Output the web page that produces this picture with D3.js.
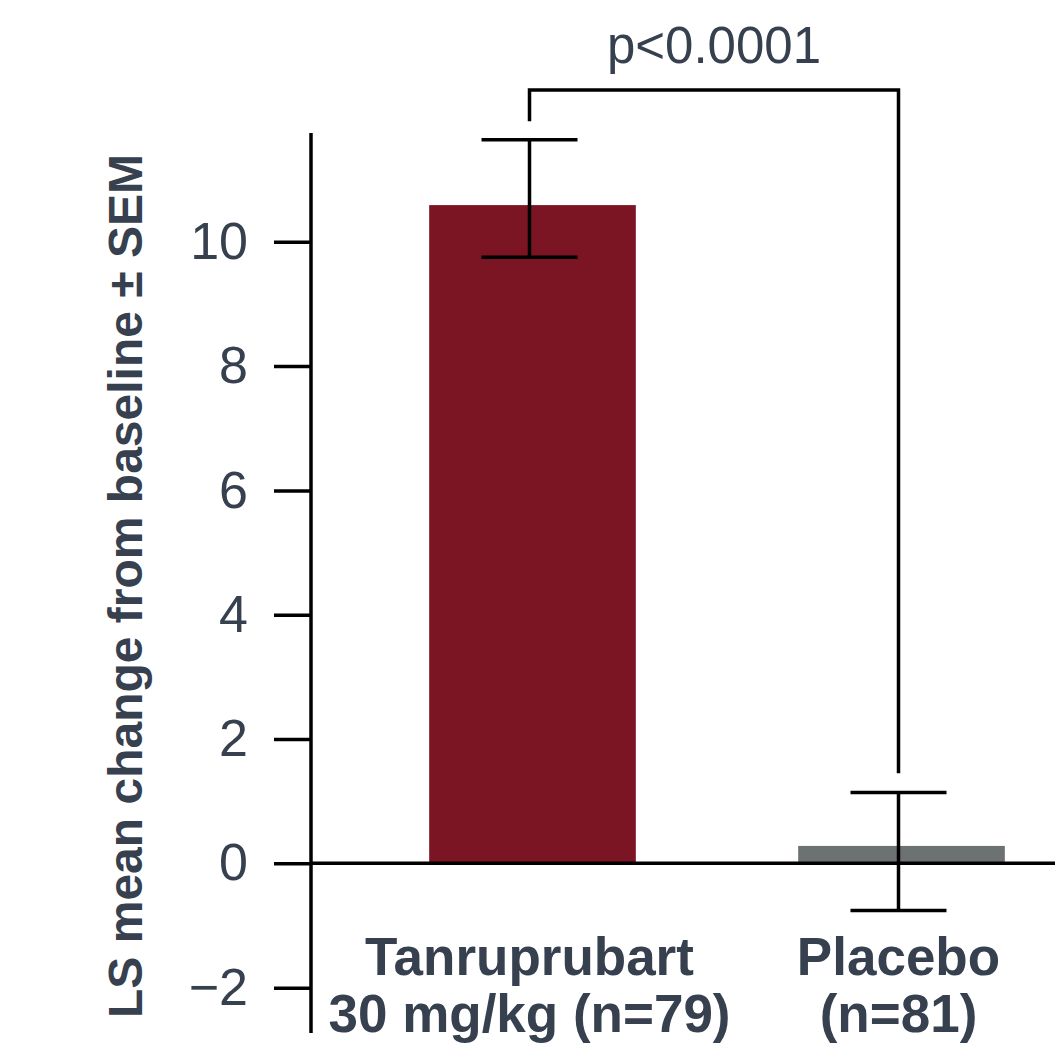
<!DOCTYPE html>
<html>
<head>
<meta charset="utf-8">
<script src="https://cdn.jsdelivr.net/npm/d3@7"></script>
<style>
  body { margin: 0; background: #fff; }
  svg { display: block; }
</style>
</head>
<body>
<div id="chart"></div>
<script>
// groups and values (LS mean change from baseline, with SEM bar ends)
var groups = ["Tanruprubart|30 mg/kg (n=79)", "Placebo|(n=81)"];
var means = [10.59, 0.28];
var errLow = [9.75, -0.76];
var errHigh = [11.64, 1.14];
var barColors = ["#7b1423", "#6b7271"];
var yTicks = [-2, 0, 2, 4, 6, 8, 10];
// significance bracket: left leg bottom, top, right leg bottom
var bracket = [11.94, 12.44, 1.45];
var pLabel = "p<0.0001";
var yTitle = "LS mean change from baseline \u00B1 SEM";

var W = 1055, H = 1054;
var textCol = "#36404f";

var svg = d3.select("#chart").append("svg")
    .attr("width", W)
    .attr("height", H);

var x = d3.scaleBand()
    .domain(groups)
    .range([348, 1086])
    .paddingInner(0.44)
    .paddingOuter(0.22);

var y = d3.scaleLinear()
    .domain([-2.73, 11.75])
    .range([1033, 133]);

var axisX = 311;

// y axis
var yAxis = d3.axisLeft(y)
    .tickValues(yTicks)
    .tickSize(37)
    .tickPadding(26);

var gy = svg.append("g")
    .attr("transform", "translate(" + axisX + ",0)")
    .call(yAxis);
gy.select(".domain").remove();
gy.selectAll(".tick line").attr("stroke", "#000").attr("stroke-width", 3.5);
gy.selectAll(".tick text")
    .attr("fill", textCol)
    .style("font-family", "Liberation Sans, Arial, sans-serif")
    .style("font-size", "52px");

gy.append("line")
    .attr("x1", 0).attr("x2", 0)
    .attr("y1", y.range()[1]).attr("y2", y.range()[0])
    .attr("stroke", "#000")
    .attr("stroke-width", 3.5);

// bars
svg.selectAll("rect.bar")
    .data(groups)
    .enter().append("rect")
    .attr("class", "bar")
    .attr("x", function(d) { return x(d); })
    .attr("width", x.bandwidth())
    .attr("y", function(d, i) { return y(Math.max(0, means[i])); })
    .attr("height", function(d, i) { return Math.abs(y(means[i]) - y(0)); })
    .attr("fill", function(d, i) { return barColors[i]; });

// zero line across
svg.append("line")
    .attr("x1", axisX).attr("x2", W)
    .attr("y1", y(0)).attr("y2", y(0))
    .attr("stroke", "#000")
    .attr("stroke-width", 3.5);

// error bars
var capHalf = 48;
var eb = svg.selectAll("g.err")
    .data(groups)
    .enter().append("g")
    .attr("class", "err")
    .attr("stroke", "#000")
    .attr("stroke-width", 3.5);

eb.append("line")
    .attr("x1", function(d) { return x(d) + x.bandwidth() / 2 - 3; })
    .attr("x2", function(d) { return x(d) + x.bandwidth() / 2 - 3; })
    .attr("y1", function(d, i) { return y(errLow[i]); })
    .attr("y2", function(d, i) { return y(errHigh[i]); });
eb.append("line")
    .attr("x1", function(d) { return x(d) + x.bandwidth() / 2 - 3 - capHalf; })
    .attr("x2", function(d) { return x(d) + x.bandwidth() / 2 - 3 + capHalf; })
    .attr("y1", function(d, i) { return y(errHigh[i]); })
    .attr("y2", function(d, i) { return y(errHigh[i]); });
eb.append("line")
    .attr("x1", function(d) { return x(d) + x.bandwidth() / 2 - 3 - capHalf; })
    .attr("x2", function(d) { return x(d) + x.bandwidth() / 2 - 3 + capHalf; })
    .attr("y1", function(d, i) { return y(errLow[i]); })
    .attr("y2", function(d, i) { return y(errLow[i]); });

// significance bracket
var bx1 = x(groups[0]) + x.bandwidth() / 2 - 3;
var bx2 = x(groups[1]) + x.bandwidth() / 2 - 3;
svg.append("path")
    .attr("d", "M" + bx1 + "," + y(bracket[0]) +
               "V" + y(bracket[1]) +
               "H" + bx2 +
               "V" + y(bracket[2]))
    .attr("fill", "none")
    .attr("stroke", "#000")
    .attr("stroke-width", 3.5);

svg.append("text")
    .attr("x", (bx1 + bx2) / 2)
    .attr("y", 63)
    .attr("text-anchor", "middle")
    .attr("fill", textCol)
    .style("font-family", "Liberation Sans, Arial, sans-serif")
    .style("font-size", "51px")
    .text(pLabel);

// category labels
var lab = svg.selectAll("text.cat")
    .data(groups)
    .enter().append("text")
    .attr("class", "cat")
    .attr("text-anchor", "middle")
    .attr("fill", textCol)
    .style("font-family", "Liberation Sans, Arial, sans-serif")
    .style("font-weight", "bold")
    .style("font-size", "53px");

lab.each(function(d) {
    var t = d3.select(this);
    var cx = x(d) + x.bandwidth() / 2 - 3;
    d.split("|").forEach(function(line, k) {
        t.append("tspan")
            .attr("x", cx)
            .attr("y", 975 + k * 57)
            .text(line);
    });
});

// y title
svg.append("text")
    .attr("transform", "translate(142," + 586 + ") rotate(-90)")
    .attr("text-anchor", "middle")
    .attr("fill", textCol)
    .style("font-family", "Liberation Sans, Arial, sans-serif")
    .style("font-weight", "bold")
    .style("font-size", "48px")
    .text(yTitle);
</script>
</body>
</html>
